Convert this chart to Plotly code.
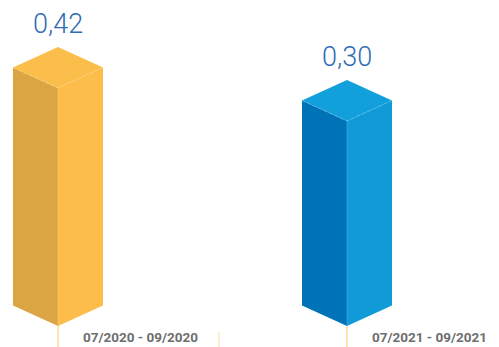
import plotly.graph_objects as go

categories = ["07/2020 - 09/2020", "07/2021 - 09/2021"]
values = [0.42, 0.30]
value_labels = ["0,42", "0,30"]
face_colors = [
    {"left": "#DCA543", "right": "#FCBD4A", "top": "#FCBE4B", "edge": "#FDD98F"},
    {"left": "#0072B8", "right": "#109BD8", "top": "#12A0DC", "edge": "#6CC6EE"},
]

# geometry (in axis units)
base = -0.4455      # value-axis level of the bars' bottom front vertex
half_w = 0.1557     # half width of the isometric box (category units)
depth = 0.0745      # half height of the top diamond (value units)

fig = go.Figure()

for i, (cat, v, col) in enumerate(zip(categories, values, face_colors)):
    x = i
    # left face
    fig.add_trace(go.Scatter(
        x=[x - half_w, x, x, x - half_w, x - half_w],
        y=[v + depth, v, base, base + depth, v + depth],
        fill="toself", fillcolor=col["left"], mode="lines",
        line=dict(width=0), hoverinfo="skip", showlegend=False))
    # right face
    fig.add_trace(go.Scatter(
        x=[x, x + half_w, x + half_w, x, x],
        y=[v, v + depth, base + depth, base, v],
        fill="toself", fillcolor=col["right"], mode="lines",
        line=dict(width=0), hoverinfo="skip", showlegend=False))
    # top face
    fig.add_trace(go.Scatter(
        x=[x, x - half_w, x, x + half_w, x],
        y=[v, v + depth, v + 2 * depth, v + depth, v],
        fill="toself", fillcolor=col["top"], mode="lines",
        line=dict(width=0), hoverinfo="skip", showlegend=False))
    # subtle front edges of top face
    fig.add_trace(go.Scatter(
        x=[x - half_w, x, x + half_w],
        y=[v + depth, v, v + depth],
        mode="lines", line=dict(width=1, color=col["edge"], dash="dot"),
        opacity=0.6, hoverinfo="skip", showlegend=False))
    # vertical front edge
    fig.add_trace(go.Scatter(
        x=[x, x], y=[v, base], mode="lines",
        line=dict(width=1, color=col["edge"]), opacity=0.35,
        hoverinfo="skip", showlegend=False))
    # value label
    fig.add_annotation(x=x, y=v + 2 * depth, text=value_labels[i],
                       showarrow=False, yanchor="bottom", yshift=5,
                       font=dict(family="Roboto", size=27, color="#2F6DB5", weight=300))
    # category label
    fig.add_annotation(x=x, y=base, text="<b>" + cat + "</b>",
                       showarrow=False, xanchor="left", yanchor="middle",
                       xshift=23, yshift=-11,
                       font=dict(family="Roboto", size=13.5, color="#6E6E6E"))
    # tick line under bar
    fig.add_shape(type="line", x0=x, x1=x, y0=base, y1=-0.53,
                  line=dict(color="#FCD27E", width=1.2))

# small tick between categories
fig.add_shape(type="line", x0=0.557, x1=0.557, y0=base - 0.022, y1=-0.53,
              line=dict(color="#FCE3B3", width=1.2))

fig.update_layout(
    width=499, height=347,
    margin=dict(l=0, r=0, t=0, b=0),
    paper_bgcolor="white", plot_bgcolor="white",
    xaxis=dict(range=[-0.2007, 1.526], visible=False, fixedrange=True),
    yaxis=dict(range=[-0.5218, 0.74], visible=False, fixedrange=True),
)

fig.write_html("out.html")
